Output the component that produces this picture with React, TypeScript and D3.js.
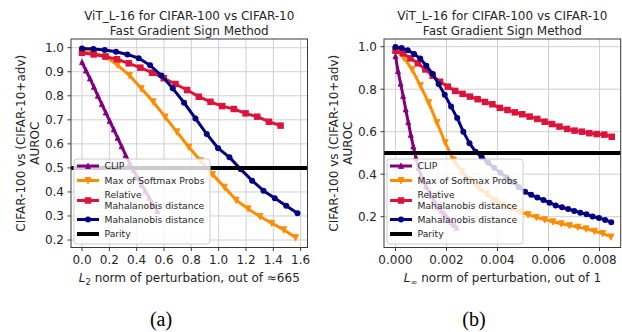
import React from 'react';
import * as d3 from 'd3';

const W = 622;
const H = 332;

// panel (a): L2 norm of perturbation
const l2ClipX = [0, 0.029, 0.058, 0.087, 0.116, 0.145, 0.174, 0.203, 0.232, 0.261, 0.29, 0.319, 0.348, 0.377, 0.406, 0.435, 0.464, 0.493, 0.522, 0.551];
const l2ClipY = [0.94, 0.905, 0.872, 0.837, 0.8, 0.765, 0.73, 0.695, 0.66, 0.625, 0.59, 0.553, 0.52, 0.49, 0.46, 0.43, 0.403, 0.375, 0.348, 0.32];
const l2SoftmaxX = [0, 0.087, 0.174, 0.26, 0.347, 0.434, 0.521, 0.608, 0.694, 0.781, 0.868, 0.955, 1.042, 1.128, 1.215, 1.302, 1.389, 1.476, 1.563];
const l2SoftmaxY = [0.985, 0.979, 0.962, 0.928, 0.885, 0.83, 0.775, 0.712, 0.65, 0.587, 0.53, 0.473, 0.42, 0.366, 0.33, 0.298, 0.27, 0.243, 0.21];
const l2RelMahaX = [0, 0.085, 0.171, 0.256, 0.342, 0.427, 0.513, 0.598, 0.684, 0.769, 0.855, 0.94, 1.026, 1.111, 1.197, 1.282, 1.368, 1.453];
const l2RelMahaY = [0.979, 0.972, 0.963, 0.952, 0.935, 0.917, 0.896, 0.873, 0.849, 0.824, 0.796, 0.775, 0.757, 0.745, 0.727, 0.713, 0.692, 0.676];
const l2MahaX = [0, 0.083, 0.166, 0.249, 0.332, 0.415, 0.498, 0.581, 0.664, 0.747, 0.83, 0.913, 0.996, 1.079, 1.162, 1.245, 1.328, 1.411, 1.494, 1.577];
const l2MahaY = [0.997, 0.995, 0.99, 0.983, 0.972, 0.956, 0.927, 0.884, 0.831, 0.771, 0.706, 0.641, 0.582, 0.544, 0.494, 0.447, 0.405, 0.374, 0.343, 0.311];
const l2XTicks = [0, 0.2, 0.4, 0.6, 0.8, 1.0, 1.2, 1.4, 1.6];
const l2YTicks = [0.2, 0.3, 0.4, 0.5, 0.6, 0.7, 0.8, 0.9, 1.0];

// panel (b): Linf norm of perturbation
const linfClipX = [0, 0.0001, 0.0002, 0.0003, 0.0004, 0.0005, 0.0006, 0.0007, 0.0008, 0.0009, 0.001, 0.0011, 0.0012, 0.0013, 0.0014, 0.0015, 0.0016, 0.0017, 0.0018, 0.0019, 0.002, 0.0021, 0.0022, 0.0023, 0.0024];
const linfClipY = [0.955, 0.885, 0.826, 0.768, 0.705, 0.645, 0.585, 0.53, 0.478, 0.43, 0.395, 0.368, 0.342, 0.318, 0.298, 0.279, 0.26, 0.243, 0.228, 0.214, 0.2, 0.186, 0.172, 0.16, 0.148];
const linfSoftmaxX = [0, 0.000325, 0.00065, 0.000975, 0.0013, 0.001625, 0.00195, 0.002275, 0.0026, 0.002925, 0.00325, 0.003575, 0.0039, 0.004225, 0.00455, 0.004875, 0.0052, 0.005525, 0.00585, 0.006175, 0.0065, 0.006825, 0.00715, 0.007475, 0.0078, 0.008125, 0.00845];
const linfSoftmaxY = [0.985, 0.948, 0.893, 0.817, 0.737, 0.643, 0.549, 0.467, 0.412, 0.373, 0.336, 0.308, 0.277, 0.256, 0.238, 0.222, 0.21, 0.197, 0.186, 0.176, 0.167, 0.159, 0.151, 0.143, 0.132, 0.121, 0.105];
const linfRelMahaX = [0, 0.000292, 0.000585, 0.000877, 0.00117, 0.00146, 0.00175, 0.00205, 0.00234, 0.00263, 0.00292, 0.00322, 0.00351, 0.0038, 0.00409, 0.00439, 0.00468, 0.00497, 0.00526, 0.00556, 0.00585, 0.00614, 0.00643, 0.00673, 0.00702, 0.00731, 0.0076, 0.00789, 0.00819, 0.00848];
const linfRelMahaY = [0.981, 0.969, 0.945, 0.922, 0.893, 0.863, 0.835, 0.812, 0.792, 0.778, 0.765, 0.753, 0.74, 0.729, 0.712, 0.702, 0.691, 0.682, 0.671, 0.66, 0.647, 0.636, 0.624, 0.613, 0.605, 0.6, 0.593, 0.589, 0.586, 0.576];
const linfMahaX = [0, 0.00024, 0.00048, 0.00073, 0.00097, 0.00121, 0.00145, 0.00169, 0.00193, 0.00218, 0.00242, 0.00266, 0.0029, 0.00314, 0.00338, 0.00363, 0.00387, 0.00411, 0.00435, 0.00459, 0.00483, 0.00508, 0.00532, 0.00556, 0.0058, 0.00604, 0.00628, 0.00653, 0.00677, 0.00701, 0.00725, 0.00749, 0.00773, 0.00798, 0.00822, 0.00846];
const linfMahaY = [0.998, 0.994, 0.983, 0.966, 0.944, 0.91, 0.873, 0.824, 0.774, 0.718, 0.664, 0.6, 0.546, 0.506, 0.48, 0.455, 0.43, 0.407, 0.385, 0.364, 0.34, 0.317, 0.303, 0.29, 0.279, 0.266, 0.253, 0.244, 0.236, 0.227, 0.219, 0.211, 0.201, 0.194, 0.185, 0.174];
const linfXTicks = [0, 0.002, 0.004, 0.006, 0.008];
const linfYTicks = [0.2, 0.4, 0.6, 0.8, 1.0];

const PARITY = 0.5;
const titleLines = ['ViT_L-16 for CIFAR-100 vs CIFAR-10', 'Fast Gradient Sign Method'];
const yLabelLines = ['CIFAR-100 vs (CIFAR-10+adv)', 'AUROC'];

type Style = { color: string; marker: string; ms: number };
const styles: Record<string, Style> = {
  clip: { color: '#800080', marker: '^', ms: 5 },
  softmax: { color: '#ff8c00', marker: 'v', ms: 6 },
  relmaha: { color: '#dc143c', marker: 's', ms: 6.5 },
  maha: { color: '#000080', marker: 'o', ms: 6 },
};
const legendItems = [
  { key: 'clip', lines: ['CLIP'] },
  { key: 'softmax', lines: ['Max of Softmax Probs'] },
  { key: 'relmaha', lines: ['Relative', 'Mahalanobis distance'] },
  { key: 'maha', lines: ['Mahalanobis distance'] },
  { key: 'parity', lines: ['Parity'] },
];

const FONT = 'DejaVu Sans, sans-serif';

function Marker({ x, y, s }: { x: number; y: number; s: Style }) {
  const r = s.ms / 2;
  if (s.marker === 'o') return <circle cx={x} cy={y} r={r} fill={s.color} />;
  if (s.marker === 's') return <rect x={x - r} y={y - r} width={s.ms} height={s.ms} fill={s.color} />;
  const d = s.marker === '^'
    ? `M${x},${y - r - 0.5}L${x + r},${y + r}L${x - r},${y + r}Z`
    : `M${x},${y + r + 0.5}L${x + r},${y - r}L${x - r},${y - r}Z`;
  return <path d={d} fill={s.color} stroke={s.color} strokeWidth={0.8} />;
}

type SeriesData = { key: string; x: number[]; y: number[] };

function Panel(props: {
  box: { x0: number; x1: number; y0: number; y1: number };
  xDomain: [number, number];
  yDomain: [number, number];
  xTicks: number[];
  yTicks: number[];
  xFmt: (v: number) => string;
  yFmt: (v: number) => string;
  series: SeriesData[];
  xLabel: React.ReactNode;
  caption: string;
  captionX: number;
}) {
  const { box, series } = props;
  const x = d3.scaleLinear().domain(props.xDomain).range([box.x0, box.x1]);
  const y = d3.scaleLinear().domain(props.yDomain).range([box.y1, box.y0]);
  const cx = (box.x0 + box.x1) / 2;
  const cy = (box.y0 + box.y1) / 2;
  const line = d3.line<[number, number]>().x((d) => x(d[0])).y((d) => y(d[1]));

  const lgX = box.x0 + 3;
  const lgY = box.y1 - 3.5 - 85;
  const rows = [7, 21.5, 41.5, 60.5, 75];
  const textRows = [[7], [21.5], [36, 47], [60.5], [75]];

  return (
    <g>
      {/* grid */}
      {props.xTicks.map((t) => (
        <line key={'gx' + t} x1={x(t)} x2={x(t)} y1={box.y0} y2={box.y1} stroke="#d0d0d0" strokeWidth={1} />
      ))}
      {props.yTicks.map((t) => (
        <line key={'gy' + t} x1={box.x0} x2={box.x1} y1={y(t)} y2={y(t)} stroke="#d0d0d0" strokeWidth={1} />
      ))}
      {/* series */}
      {series.map((s) => {
        const st = styles[s.key];
        const pts = s.x.map((v, i) => [v, s.y[i]] as [number, number]);
        return (
          <g key={s.key}>
            <path d={line(pts) || ''} fill="none" stroke={st.color} strokeWidth={3} strokeLinejoin="round" />
            {pts.map((p, i) => (
              <Marker key={i} x={x(p[0])} y={y(p[1])} s={st} />
            ))}
          </g>
        );
      })}
      <line x1={box.x0} x2={box.x1} y1={y(PARITY)} y2={y(PARITY)} stroke="#000" strokeWidth={4} />
      {/* spines */}
      <rect x={box.x0} y={box.y0} width={box.x1 - box.x0} height={box.y1 - box.y0} fill="none" stroke="#3a3a3a" strokeWidth={1} />
      {/* ticks */}
      {props.xTicks.map((t) => (
        <g key={'tx' + t}>
          <line x1={x(t)} x2={x(t)} y1={box.y1} y2={box.y1 + 3.5} stroke="#3a3a3a" />
          <text x={x(t)} y={box.y1 + 16} textAnchor="middle" fontSize={12} fontFamily={FONT} fill="#262626">
            {props.xFmt(t)}
          </text>
        </g>
      ))}
      {props.yTicks.map((t) => (
        <g key={'ty' + t}>
          <line x1={box.x0 - 3.5} x2={box.x0} y1={y(t)} y2={y(t)} stroke="#3a3a3a" />
          <text x={box.x0 - 7} y={y(t)} dy="0.36em" textAnchor="end" fontSize={12} fontFamily={FONT} fill="#262626">
            {props.yFmt(t)}
          </text>
        </g>
      ))}
      {/* title */}
      {titleLines.map((t, i) => (
        <text key={t} x={cx} y={19.5 + i * 15} textAnchor="middle" fontSize={12} fontFamily={FONT} fill="#262626">
          {t}
        </text>
      ))}
      {/* y label */}
      {yLabelLines.map((t, i) => (
        <text key={t} transform={`translate(${box.x0 - 46 + i * 14},${cy}) rotate(-90)`} textAnchor="middle" fontSize={12} fontFamily={FONT} fill="#262626">
          {t}
        </text>
      ))}
      {/* x label */}
      <text x={cx} y={282} textAnchor="middle" fontSize={12} fontFamily={FONT} fill="#262626">
        {props.xLabel}
      </text>
      <text x={props.captionX} y={326} textAnchor="middle" fontSize={20} fontFamily="Liberation Serif, serif" fill="#000">
        {props.caption}
      </text>
      {/* legend */}
      <g>
        <rect x={lgX} y={lgY} width={136} height={85} rx={3} fill="#fff" fillOpacity={0.8} stroke="#cccccc" strokeWidth={1} />
        {legendItems.map((it, i) => {
          const ry = lgY + rows[i];
          const hx0 = lgX + 3;
          const hx1 = lgX + 25;
          const isParity = it.key === 'parity';
          const st = styles[it.key];
          return (
            <g key={it.key}>
              <line x1={hx0} x2={hx1} y1={ry} y2={ry} stroke={isParity ? '#000' : st.color} strokeWidth={isParity ? 4 : 3} />
              {!isParity && <Marker x={(hx0 + hx1) / 2} y={ry} s={st} />}
              {it.lines.map((l, j) => (
                <text key={l} x={lgX + 30.5} y={lgY + textRows[i][j]} dy="0.36em" fontSize={9.2} fontFamily={FONT} fill="#262626">
                  {l}
                </text>
              ))}
            </g>
          );
        })}
      </g>
    </g>
  );
}

export default function App() {
  const f1 = d3.format('.1f');
  const f3 = d3.format('.3f');
  return (
    <svg width={W} height={H} style={{ position: 'absolute', left: 0, top: 0, background: '#fff' }}>
      <rect width={W} height={H} fill="#fff" />
      <Panel
        box={{ x0: 71, x1: 307.5, y0: 39, y1: 247.5 }}
        xDomain={[-0.0805, 1.65]}
        yDomain={[0.1689, 1.0362]}
        xTicks={l2XTicks}
        yTicks={l2YTicks}
        xFmt={f1}
        yFmt={f1}
        series={[
          { key: 'clip', x: l2ClipX, y: l2ClipY },
          { key: 'softmax', x: l2SoftmaxX, y: l2SoftmaxY },
          { key: 'relmaha', x: l2RelMahaX, y: l2RelMahaY },
          { key: 'maha', x: l2MahaX, y: l2MahaY },
        ]}
        xLabel={
          <>
            <tspan fontStyle="italic">L</tspan>
            <tspan fontSize={8.5} dy={3}>2</tspan>
            <tspan dy={-3}> norm of perturbation, out of ≈665</tspan>
          </>
        }
        caption="(a)"
        captionX={161}
      />
      <Panel
        box={{ x0: 384, x1: 620.7, y0: 39, y1: 247.5 }}
        xDomain={[-0.000451, 0.008831]}
        yDomain={[0.055, 1.0362]}
        xTicks={linfXTicks}
        yTicks={linfYTicks}
        xFmt={f3}
        yFmt={f1}
        series={[
          { key: 'clip', x: linfClipX, y: linfClipY },
          { key: 'softmax', x: linfSoftmaxX, y: linfSoftmaxY },
          { key: 'relmaha', x: linfRelMahaX, y: linfRelMahaY },
          { key: 'maha', x: linfMahaX, y: linfMahaY },
        ]}
        xLabel={
          <>
            <tspan fontStyle="italic">L</tspan>
            <tspan fontSize={8.5} dy={3}>∞</tspan>
            <tspan dy={-3}> norm of perturbation, out of 1</tspan>
          </>
        }
        caption="(b)"
        captionX={474}
      />
    </svg>
  );
}
